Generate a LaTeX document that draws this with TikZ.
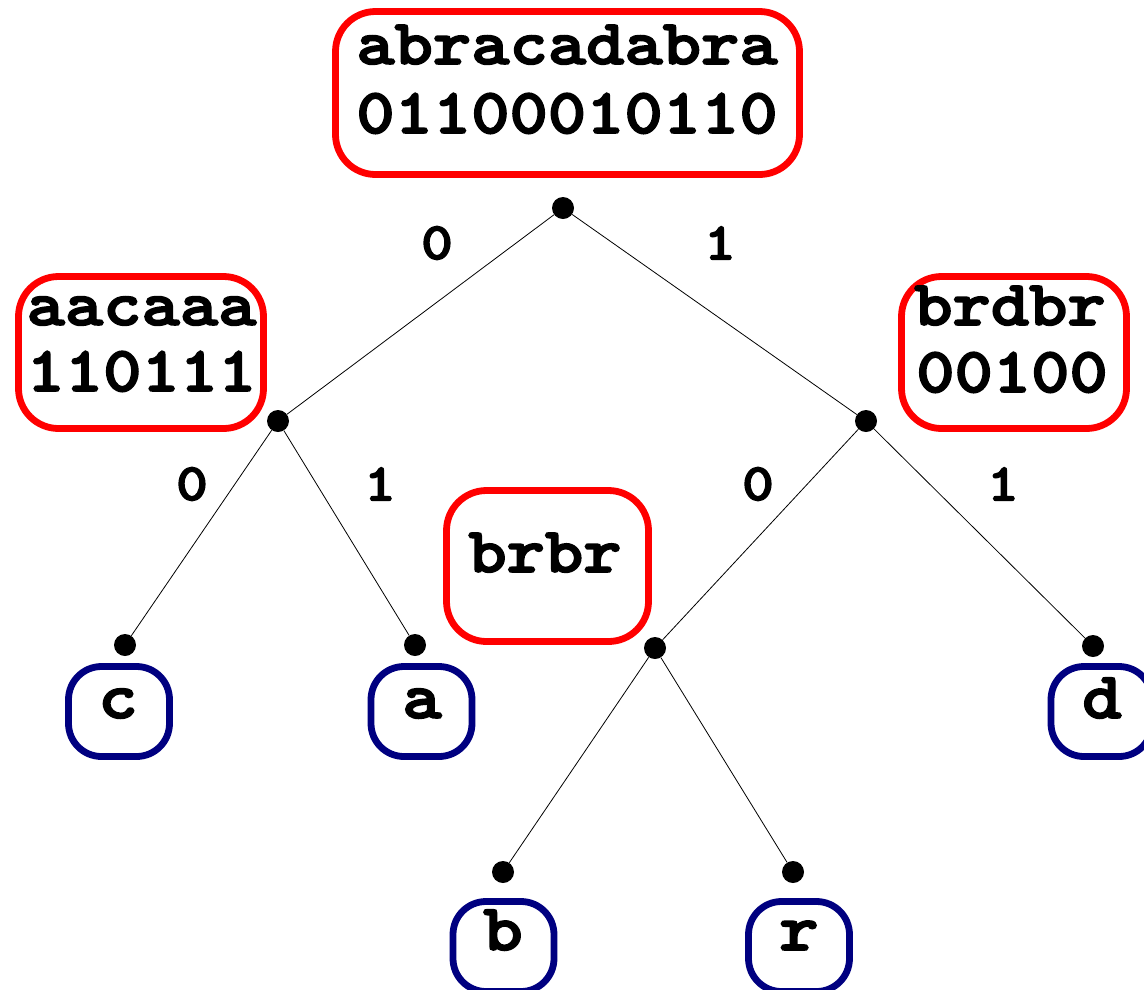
\documentclass[tikz,border=0pt]{standalone}
\usepackage{fontspec}
\newfontfamily\seqfont[FakeStretch=1.14,FakeBold=2.6]{lmmonolt10-bold.otf}
\definecolor{boxred}{RGB}{255,0,0}
\definecolor{leafnavy}{RGB}{0,0,128}
\begin{document}
\begin{tikzpicture}[x=1pt,y=-1pt,
  redbox/.style={draw=boxred,line width=6.8pt,rounded corners=40pt,inner sep=0pt},
  leafbox/.style={draw=leafnavy,line width=6.8pt,rounded corners=33pt,inner sep=0pt,
    minimum width=101pt,minimum height=90pt},
  dotnode/.style={circle,fill=black,inner sep=0pt,minimum size=22pt},
  seqtxt/.style={anchor=base,inner sep=0pt,font=\fontsize{64}{68}\seqfont},
  leaftxt/.style={anchor=base,inner sep=0pt,font=\fontsize{66}{70}\seqfont},
  edgelab/.style={inner sep=0pt,font=\fontsize{53}{57}\seqfont},
  branch/.style={line width=0.8pt}]
\useasboundingbox (0,0) rectangle (1144,989);
\clip (0,0) rectangle (1144,989);

% sequence boxes of the internal nodes
\node[redbox,minimum width=464pt,minimum height=163pt] (rootbox) at (567.5,93) {};
\node[seqtxt] (rootseq) at (567,64) {abracadabra};
\node[seqtxt] (rootbits) at (567,133) {01100010110};

\node[redbox,minimum width=245pt,minimum height=152pt] (leftbox) at (141,352.5) {};
\node[seqtxt] (leftseq) at (141.5,325) {aacaaa};
\node[seqtxt] (leftbits) at (141.5,391) {110111};

\node[redbox,minimum width=225pt,minimum height=152pt] (rightbox) at (1014,352.5) {};
\node[seqtxt] (rightseq) at (1010,325) {brdbr};
\node[seqtxt] (rightbits) at (1012,392) {00100};

\node[redbox,minimum width=202pt,minimum height=151pt] (midbox) at (547.5,566) {};
\node[seqtxt] (midseq) at (545,572) {brbr};

% tree skeleton
\node[dotnode] (nroot) at (563,208) {};
\node[dotnode] (nleft) at (278,421) {};
\node[dotnode] (nright) at (866,421) {};
\node[dotnode] (nmid) at (655,648) {};
\node[dotnode] (nc) at (125,645) {};
\node[dotnode] (na) at (415,645) {};
\node[dotnode] (nd) at (1093,646) {};
\node[dotnode] (nb) at (503,872) {};
\node[dotnode] (nr) at (793,872) {};

\draw[branch] (nroot) -- (nleft);
\draw[branch] (nroot) -- (nright);
\draw[branch] (nleft) -- (nc);
\draw[branch] (nleft) -- (na);
\draw[branch] (nright) -- (nmid);
\draw[branch] (nright) -- (nd);
\draw[branch] (nmid) -- (nb);
\draw[branch] (nmid) -- (nr);

% branch labels
\node[edgelab] (l0) at (437,243) {0};
\node[edgelab] (l1) at (720,243) {1};
\node[edgelab] (ll0) at (192,484) {0};
\node[edgelab] (ll1) at (380,484) {1};
\node[edgelab] (rl0) at (758,484) {0};
\node[edgelab] (rl1) at (1003,484) {1};

% leaves
\node[leafbox] (cbox) at (119,711.5) {};
\node[leaftxt] (ctxt) at (118,718) {c};
\node[leafbox] (abox) at (421.5,711.5) {};
\node[leaftxt] (atxt) at (422,718) {a};
\node[leafbox] (dbox) at (1101.5,711.5) {};
\node[leaftxt] (dtxt) at (1102,718) {d};
\node[leafbox] (bbox) at (503.5,946.5) {};
\node[leaftxt] (btxt) at (503,950) {b};
\node[leafbox] (rbox) at (799,946.5) {};
\node[leaftxt] (rtxt) at (799,950) {r};
\end{tikzpicture}
\end{document}
